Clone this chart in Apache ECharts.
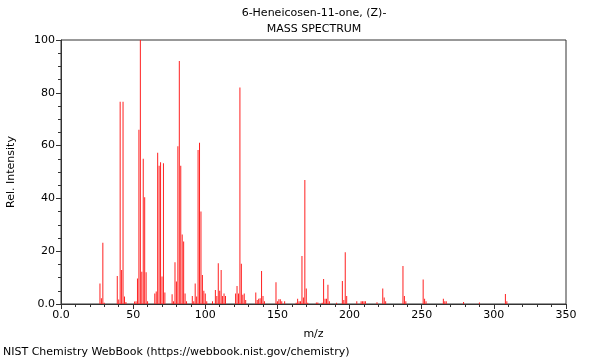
<!DOCTYPE html>
<html>
<head>
<meta charset="utf-8">
<script src="https://cdn.jsdelivr.net/npm/echarts@6/dist/echarts.min.js"></script>
<style>
html,body{margin:0;padding:0;background:#fff;}
#chart{width:600px;height:360px;}
</style>
</head>
<body>
<div id="chart"></div>
<script>
const titleLine1 = '6-Heneicosen-11-one, (Z)-';
const titleLine2 = 'MASS SPECTRUM';
const footer = 'NIST Chemistry WebBook (https://webbook.nist.gov/chemistry)';
const xName = 'm/z';
const yName = 'Rel. Intensity';

const mz = [27,28,29,30,39,40,41,42,43,44,45,51,52,53,54,55,56,57,58,59,60,
  65,66,67,68,69,70,71,72,77,78,79,80,81,82,83,84,85,86,87,91,92,93,94,95,96,97,98,99,100,101,
  105,107,108,109,110,111,112,113,114,121,122,123,124,125,126,127,128,135,136,137,138,139,140,141,
  149,150,151,152,153,155,163,164,165,166,167,168,169,170,171,177,178,181,182,183,184,185,186,191,
  195,196,197,198,205,208,209,210,211,219,223,224,225,237,238,239,251,252,253,265,266,267,279,290,308,309];
const intensity = [7.8,2.2,23.2,0.5,10.6,1.7,76.6,12.9,76.6,2.8,0.8,0.9,1.0,9.7,66.0,100,12.2,55.0,40.4,12.0,1.0,
  4.0,4.7,57.3,52.4,53.7,10.4,53.3,4.4,3.7,1.0,15.8,8.5,59.8,92.0,52.4,26.3,23.7,4.0,1.0,3.0,1.0,7.8,2.8,58.3,61.1,35.0,11.0,5.0,4.0,1.0,
  1.0,5.3,3.0,15.4,5.0,12.9,3.0,4.0,3.0,4.0,6.8,4.0,82.0,15.2,3.5,4.0,1.5,4.4,1.5,2.0,2.2,12.5,3.0,1.0,
  8.2,1.0,1.8,1.8,1.0,1.0,0.5,2.0,1.0,1.0,18.2,2.5,47.0,5.9,0.5,0.6,0.6,0.5,9.5,2.0,2.0,7.3,1.0,0.5,
  8.7,1.5,19.6,3.0,1.0,1.0,1.0,1.0,1.0,0.7,5.9,2.5,1.0,14.4,3.0,1.0,9.3,2.0,1.0,2.0,1.0,1.0,0.8,0.6,3.8,1.0];

const xTicks = {min: 0, max: 350, interval: 50};
const yTicks = {min: 0, max: 100, interval: 20};

const chart = echarts.init(document.getElementById('chart'), null, {renderer: 'canvas'});
const font = 'DejaVu Sans';
const fmt = v => (v === 0 ? '0.0' : String(v));

chart.setOption({
  animation: false,
  backgroundColor: '#fff',
  grid: {left: 61, right: 34, top: 40, bottom: 56, containLabel: false, outerBoundsMode: 'none', show: true, borderColor: '#333', borderWidth: 1, backgroundColor: 'transparent'},
  graphic: [
    {type: 'text', x: 314, y: 8, style: {text: titleLine1, font: '11px ' + font, fill: '#000', textAlign: 'center', textVerticalAlign: 'top'}},
    {type: 'text', x: 314, y: 24, style: {text: titleLine2, font: '11px ' + font, fill: '#000', textAlign: 'center', textVerticalAlign: 'top'}},
    {type: 'text', x: 3, y: 347, style: {text: footer, font: '11px ' + font, fill: '#000', textAlign: 'left', textVerticalAlign: 'top'}}
  ],
  xAxis: {
    type: 'value', min: xTicks.min, max: xTicks.max, interval: xTicks.interval,
    name: xName, nameLocation: 'middle', nameGap: 25,
    nameTextStyle: {fontFamily: font, fontSize: 11, color: '#000'},
    axisLine: {show: true, lineStyle: {color: '#333'}},
    axisTick: {show: true, length: 5, lineStyle: {color: '#333'}},
    minorTick: {show: true, splitNumber: 5, length: 3, lineStyle: {color: '#333'}},
    splitLine: {show: false},
    axisLabel: {fontFamily: font, fontSize: 11, color: '#000', margin: 6, formatter: fmt}
  },
  yAxis: {
    type: 'value', min: yTicks.min, max: yTicks.max, interval: yTicks.interval,
    name: yName, nameLocation: 'middle', nameGap: 44,
    nameTextStyle: {fontFamily: font, fontSize: 11, color: '#000'},
    axisLine: {show: true, lineStyle: {color: '#333'}},
    axisTick: {show: true, length: 5, lineStyle: {color: '#333'}},
    minorTick: {show: true, splitNumber: 4, length: 3, lineStyle: {color: '#333'}},
    splitLine: {show: false},
    axisLabel: {fontFamily: font, fontSize: 11, color: '#000', margin: 6, formatter: fmt}
  },
  series: [{
    type: 'bar',
    barWidth: 1,
    itemStyle: {color: '#ff2020'},
    data: mz.map((m, i) => [m, intensity[i]])
  }]
});
</script>
</body>
</html>
